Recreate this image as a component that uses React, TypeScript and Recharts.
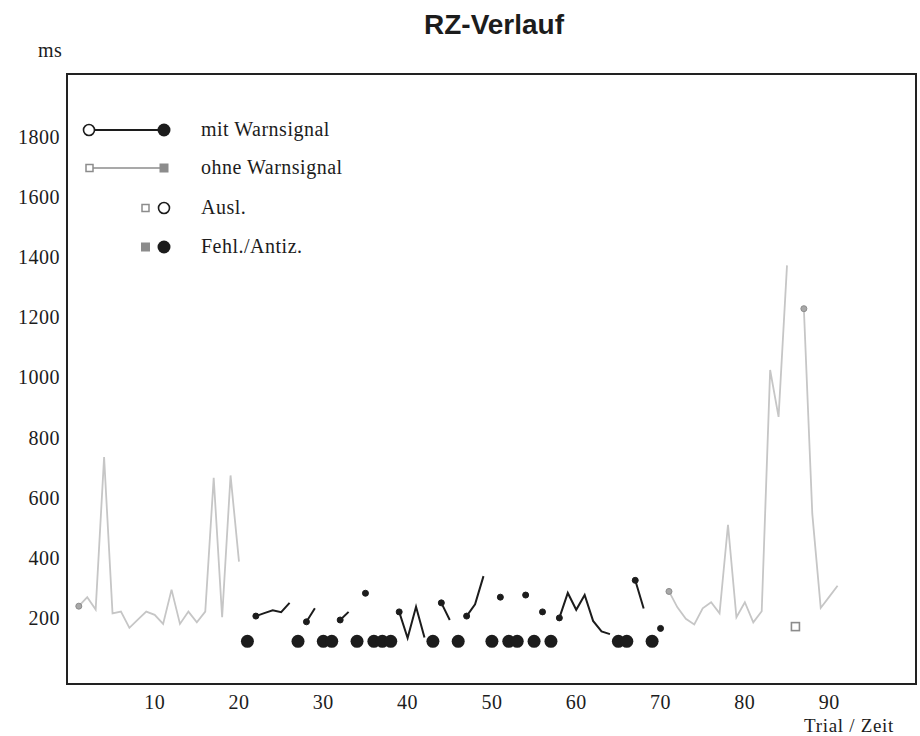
import { ComposedChart, Line, Scatter, XAxis, YAxis, ReferenceArea, Legend } from 'recharts';

// RT per trial (ms); trials without a value are gaps in the line
const ohneTrials = [
  1, 2, 3, 4, 5, 6, 7, 8, 9, 10, 11, 12, 13, 14, 15, 16, 17, 18, 19, 20,
  71, 72, 73, 74, 75, 76, 77, 78, 79, 80, 81, 82, 83, 84, 85, 87, 88, 89, 90, 91,
];
const ohneRZ = [
  239, 269, 228, 735, 215, 221, 167, 194, 221, 210, 180, 294, 180, 221, 185, 221, 666, 202, 674, 387,
  288, 235, 197, 178, 232, 252, 215, 510, 202, 252, 185, 222, 1025, 869, 1373, 1229, 546, 233, 270, 307,
];

const mitTrials = [
  22, 23, 24, 25, 26, 28, 29, 32, 33, 35, 39, 40, 41, 42, 44, 45,
  47, 48, 49, 51, 54, 56, 58, 59, 60, 61, 62, 63, 64, 67, 68, 70,
];
const mitRZ = [
  206, 216, 225, 219, 250, 187, 232, 193, 220, 282, 220, 133, 237, 135, 250, 193,
  206, 245, 339, 269, 276, 220, 200, 283, 227, 276, 190, 155, 146, 325, 231, 165,
];

// errors / anticipations (mit Warnsignal) and omissions (ohne Warnsignal)
const mitFehlTrials = [21, 27, 30, 31, 34, 36, 37, 38, 43, 46, 50, 52, 53, 55, 57, 65, 66, 69];
const ohneAuslTrials = [86];
const FEHL_LEVEL = 122;
const AUSL_LEVEL = 171;

const xTicks = [10, 20, 30, 40, 50, 60, 70, 80, 90];
const yTicks = [200, 400, 600, 800, 1000, 1200, 1400, 1600, 1800];
const LAST_TRIAL = 91;

const legendItems = ['mit Warnsignal', 'ohne Warnsignal', 'Ausl.', 'Fehl./Antiz.'];

const SERIF = '"Liberation Serif", "Times New Roman", serif';
const INK = '#1c1c1c';
const GREY_LINE = '#c6c6c6';
const GREY_MARK = '#8c8c8c';

const rows: { t: number; mit: number | null; ohne: number | null }[] = [];
for (let t = 1; t <= LAST_TRIAL; t++) {
  const oi = ohneTrials.indexOf(t);
  const mi = mitTrials.indexOf(t);
  rows.push({ t, ohne: oi >= 0 ? ohneRZ[oi] : null, mit: mi >= 0 ? mitRZ[mi] : null });
}

const fehlData = mitFehlTrials.map((t) => ({ t, y: FEHL_LEVEL }));
const auslData = ohneAuslTrials.map((t) => ({ t, y: AUSL_LEVEL }));

// small marker only where a run of values starts
const startDot = (key: 'mit' | 'ohne', fill: string, stroke: string) => (props: any) => {
  const { cx, cy, index } = props;
  const prev = index > 0 ? rows[index - 1][key] : null;
  if (rows[index][key] == null || prev != null || cx == null || cy == null) return <g key={`d-${key}-${index}`} />;
  return <circle key={`d-${key}-${index}`} cx={cx} cy={cy} r={3} fill={fill} stroke={stroke} strokeWidth={1} />;
};

const XTick = ({ x, y, payload }: any) => (
  <text x={x} y={y + 17} textAnchor="middle" fontFamily={SERIF} fontSize={20} letterSpacing={0.5} fill={INK}>
    {payload.value}
  </text>
);

const YTick = ({ x, y, payload }: any) => (
  <text x={x + 1} y={y + 7} textAnchor="end" fontFamily={SERIF} fontSize={20} letterSpacing={0.5} fill={INK}>
    {payload.value}
  </text>
);

const LegendBox = () => {
  const rowY = [30, 68, 108, 147];
  const textX = 141;
  return (
    <svg width={340} height={170} style={{ display: 'block' }}>
      <line x1={29} y1={rowY[0]} x2={104} y2={rowY[0]} stroke={INK} strokeWidth={2} />
      <circle cx={29} cy={rowY[0]} r={5.5} fill="#fff" stroke={INK} strokeWidth={1.6} />
      <circle cx={104} cy={rowY[0]} r={6.5} fill={INK} />

      <line x1={29} y1={rowY[1]} x2={104} y2={rowY[1]} stroke={GREY_MARK} strokeWidth={1.6} />
      <rect x={26} y={rowY[1] - 3.5} width={7} height={7} fill="#fff" stroke={GREY_MARK} strokeWidth={1.5} />
      <rect x={99.5} y={rowY[1] - 4.5} width={9} height={9} fill={GREY_MARK} />

      <rect x={82} y={rowY[2] - 3.5} width={7} height={7} fill="#fff" stroke={GREY_MARK} strokeWidth={1.5} />
      <circle cx={104} cy={rowY[2]} r={5.5} fill="#fff" stroke={INK} strokeWidth={1.6} />

      <rect x={81} y={rowY[3] - 4.5} width={9} height={9} fill={GREY_MARK} />
      <circle cx={104} cy={rowY[3]} r={6.5} fill={INK} />

      {legendItems.map((label, i) => (
        <text key={label} x={textX} y={rowY[i] + 6} fontFamily={SERIF} fontSize={20} letterSpacing={0.5} fill={INK}>
          {label}
        </text>
      ))}
    </svg>
  );
};

export default function App() {
  return (
    <div style={{ position: 'absolute', left: 0, top: 0, width: 920, height: 736, background: '#fff' }}>
      <ComposedChart width={920} height={736} data={rows} margin={{ top: 74, right: 4, left: 0, bottom: 22 }}>
        <XAxis
          type="number"
          dataKey="t"
          domain={[-0.4, 100.3]}
          ticks={xTicks}
          tick={<XTick />}
          axisLine={false}
          tickLine={false}
          height={30}
          allowDataOverflow
        />
        <YAxis
          type="number"
          domain={[-20, 2010]}
          ticks={yTicks}
          tick={<YTick />}
          axisLine={false}
          tickLine={false}
          width={67}
          allowDataOverflow
        />
        <ReferenceArea x1={-0.4} x2={100.3} y1={-20} y2={2010} fill="none" stroke="#222" strokeWidth={2} />
        <Line
          dataKey="ohne"
          stroke={GREY_LINE}
          strokeWidth={1.8}
          dot={startDot('ohne', '#a8a8a8', GREY_MARK)}
          activeDot={false}
          connectNulls={false}
          isAnimationActive={false}
        />
        <Line
          dataKey="mit"
          stroke={INK}
          strokeWidth={2}
          dot={startDot('mit', INK, INK)}
          activeDot={false}
          connectNulls={false}
          isAnimationActive={false}
        />
        <Scatter
          data={fehlData}
          dataKey="y"
          isAnimationActive={false}
          shape={(p: any) => <circle cx={p.cx} cy={p.cy} r={6.5} fill={INK} />}
        />
        <Scatter
          data={auslData}
          dataKey="y"
          isAnimationActive={false}
          shape={(p: any) => (
            <rect x={p.cx - 4} y={p.cy - 4} width={8} height={8} fill="#fff" stroke={GREY_MARK} strokeWidth={1.6} />
          )}
        />
        <Legend
          layout="horizontal"
          verticalAlign="middle"
          content={<LegendBox />}
          wrapperStyle={{ position: 'absolute', left: 60, top: 100, width: 340, height: 170 }}
        />
        <text x={494} y={34} textAnchor="middle" fontFamily='"Liberation Sans", Arial, sans-serif' fontWeight="bold" fontSize={28} fill={INK}>
          RZ-Verlauf
        </text>
        <text x={38} y={57} fontFamily={SERIF} fontSize={20} letterSpacing={0.5} fill={INK}>
          ms
        </text>
        <text x={804} y={731.5} fontFamily={SERIF} fontSize={19} letterSpacing={0.7} fill={INK}>
          Trial / Zeit
        </text>
      </ComposedChart>
    </div>
  );
}
